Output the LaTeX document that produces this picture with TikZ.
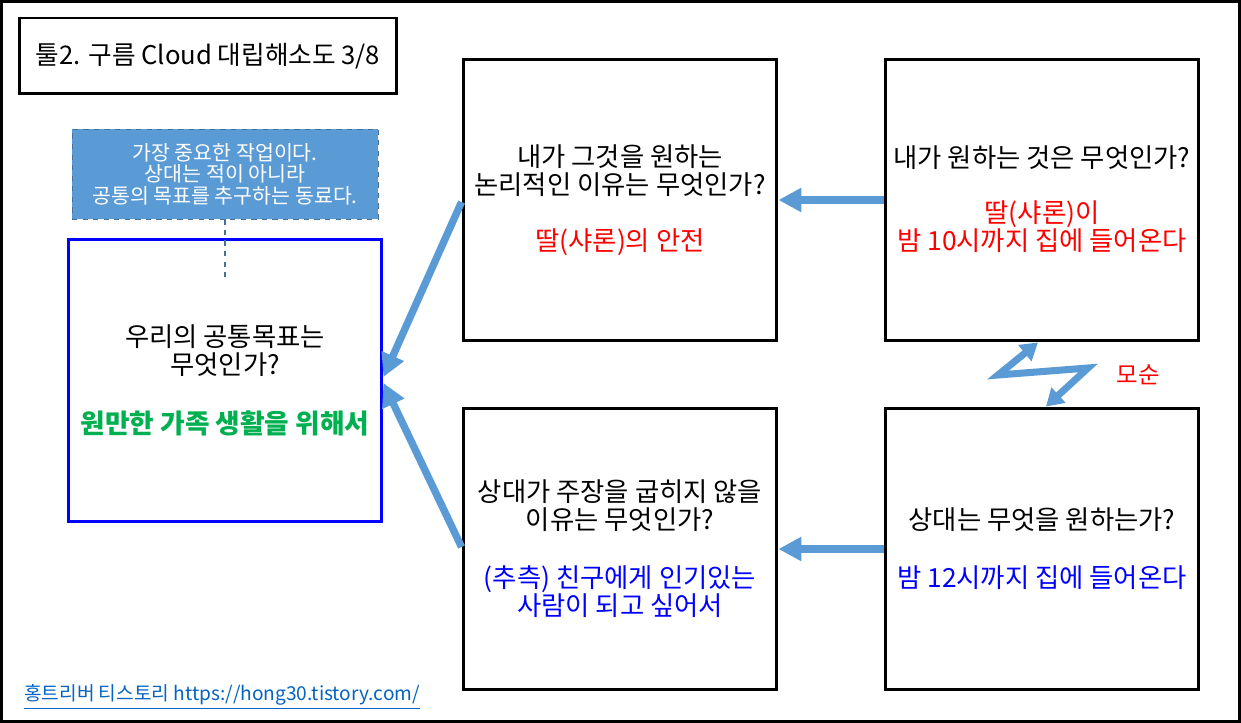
\documentclass[tikz,border=0pt]{standalone}
\usepackage{fontspec}
\setmainfont{Noto Sans CJK KR}
\usetikzlibrary{arrows.meta,positioning}
\definecolor{steel}{HTML}{5B9BD5}
\definecolor{steeldark}{HTML}{41719C}
\definecolor{linkblue}{HTML}{0563C1}
\definecolor{goalgreen}{HTML}{00B050}
\tikzset{box/.style={draw,line width=1.7pt,
                     minimum width=6.28cm,minimum height=5.64cm}}
\tikzset{ask/.style={align=center,font=\fontsize{15}{15.9}\selectfont}}

\begin{document}
\begin{tikzpicture}[x=0.02cm,y=-0.02cm,
      % styles for clarity
      flow/.style ={draw=steel, line width=4.2pt,
                    -{Triangle[length=0.46cm,width=0.46cm]}},
      zap/.style  ={draw=steel, line width=4pt, miter limit=6,
                    {Triangle[length=0.34cm,width=0.4cm]}-{Triangle[length=0.34cm,width=0.4cm]}},
      note/.style ={draw=steeldark, dashed, fill=steel, text=white,
                    align=center, font=\fontsize{11.7}{12.2}\selectfont,
                    minimum width=6.12cm, minimum height=1.8cm}
    ]
    \useasboundingbox (0,0) rectangle (1241,723);
    \draw[line width=1.7pt] (1.5,1.5) rectangle (1239.5,721.5);

    % title
    \node[draw, line width=1.7pt, minimum width=7.56cm, minimum height=1.52cm,
          font=\fontsize{14.6}{16}\selectfont] (title) at (208,56)
          {툴2. 구름 Cloud 대립해소도 3/8};

    % common goal and its note
    \node[note] (hint) at (225,174)
          {가장 중요한 작업이다.\\상대는 적이 아니라\\공통의 목표를 추구하는 동료다.};
    \node[box, draw=blue] (goal) at (225,380.5) {};
    \draw[steeldark, dashed, line width=0.6pt] (hint.south) -- ++(0,58) coordinate (hintend);
    \node[ask] (goalq) at (225,351) {우리의 공통목표는\\무엇인가?};
    \node[ask, text=goalgreen, font=\fontsize{15.2}{15.9}\selectfont\bfseries]
          (goala) at (225,423) {원만한 가족 생활을 위해서};

    % four boxes
    \node[box] (reason)  at (620,200) {};
    \node[box] (want)    at (1042,200) {};
    \node[box] (reason2) at (620,549) {};
    \node[box] (seek)    at (1042,549) {};

    \node[ask] (reasonq) at (620,171) {내가 그것을 원하는\\논리적인 이유는 무엇인가?};
    \node[ask, text=red] (reasona) at (620,242) {딸(샤론)의 안전};
    \node[ask] (wantq) at (1042,158) {내가 원하는 것은 무엇인가?};
    \node[ask, text=red] (wanta) at (1042,227) {딸(샤론)이\\밤 10시까지 집에 들어온다};
    \node[ask] (reason2q) at (620,506) {상대가 주장을 굽히지 않을\\이유는 무엇인가?};
    \node[ask, text=blue] (reason2a) at (620,592) {(추측) 친구에게 인기있는\\사람이 되고 싶어서};
    \node[ask] (seekq) at (1042,520) {상대는 무엇을 원하는가?};
    \node[ask, text=blue] (seeka) at (1042,578) {밤 12시까지 집에 들어온다};

    % arrows
    \draw[flow] (want.west) -- (reason.east);
    \draw[flow] (seek.west) -- (reason2.east);
    \draw[flow] ([yshift=-0.04cm]reason.west) -- ([yshift=0.07cm]goal.east);
    \draw[flow] ([yshift=0.04cm]reason2.west) -- ([yshift=-0.05cm]goal.east);

    % conflict
    \draw[zap] ([xshift=-0.08cm]want.south) -- (998,375) -- (1088,368)
               -- ([xshift=0.08cm]seek.north);
    \node[text=red, font=\fontsize{13.3}{14}\selectfont] (clash) at (1138,375) {모순};

    % footer
    \node[anchor=west, text=linkblue, font=\fontsize{10.9}{12}\selectfont]
          (blog) at (18,697) {\underline{홍트리버 티스토리 https://hong30.tistory.com/}};
  \end{tikzpicture}
\end{document}
